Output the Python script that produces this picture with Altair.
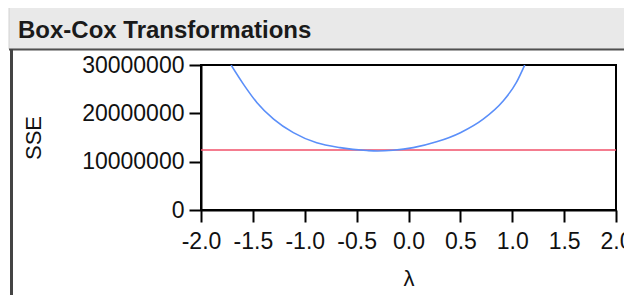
import altair as alt
import pandas as pd

# Box-Cox curve
lambdas = [-1.71, -1.59, -1.46, -1.30, -1.11, -0.885, -0.66, -0.40, -0.30, -0.15, 0.046, 0.27, 0.50, 0.72, 0.91, 1.04, 1.12]
sse_vals = [30.0e6, 26.0e6, 22.2e6, 18.8e6, 16.0e6, 13.9e6, 12.9e6, 12.3e6, 12.2e6, 12.35e6, 12.9e6, 14.1e6, 16.0e6, 18.8e6, 22.5e6, 26.4e6, 30.0e6]
ref_sse = [12.4e6]
x_ticks = [-2.0, -1.5, -1.0, -0.5, 0.0, 0.5, 1.0, 1.5, 2.0]
y_ticks = [0, 5e6, 10e6, 15e6, 20e6, 25e6, 30e6]
title_text = "Box-Cox Transformations"

curve_df = pd.DataFrame({"lam": lambdas, "sse": sse_vals})
ref_df = pd.DataFrame({"sse": ref_sse})
one = pd.DataFrame({"k": [0]})

FONT = "Liberation Sans"

xscale = alt.Scale(domain=[-2, 2], nice=False, zero=False)
yscale = alt.Scale(domain=[0, 30e6], nice=False)

xaxis = alt.Axis(values=x_ticks, format=".1f", title="λ", grid=False,
                 labelExpr="replace(datum.label, '\u2212', '-')")
yaxis = alt.Axis(values=y_ticks, format="d", title="SSE", grid=False,
                 labelExpr="datum.value % 10000000 === 0 ? datum.label : ''")

curve = alt.Chart(curve_df).mark_line(color="#5b8ff9", strokeWidth=1.6, clip=True,
                                      interpolate="monotone").encode(
    x=alt.X("lam:Q", scale=xscale, axis=xaxis),
    y=alt.Y("sse:Q", scale=yscale, axis=yaxis),
)

ref = alt.Chart(ref_df).mark_rule(color="#f0506a", strokeWidth=1.6).encode(
    y=alt.Y("sse:Q", scale=yscale)
)

# decorative report frame (title bar and outline)
bar = alt.Chart(one).mark_rect(fill="#e9e9e9", stroke="#d2d2d2", strokeWidth=1).encode(
    x=alt.value(-192), x2=alt.value(440), y=alt.value(-58), y2=alt.value(-16)
)
bar_line = alt.Chart(one).mark_rule(color="#505050", strokeWidth=2).encode(
    x=alt.value(-192), x2=alt.value(440), y=alt.value(-15.5)
)
left_line = alt.Chart(one).mark_rule(color="#444444", strokeWidth=3).encode(
    x=alt.value(-189.5), y=alt.value(-16), y2=alt.value(260)
)
title = alt.Chart(one).mark_text(text=title_text, font=FONT, fontSize=24, fontWeight="bold",
                                 align="left", baseline="alphabetic", color="#1a1a1a").encode(
    x=alt.value(-183), y=alt.value(-27.5)
)

chart = alt.layer(bar, bar_line, left_line, title, ref, curve).properties(
    width=415, height=145,
    autosize="none",
    padding={"left": 193, "top": 57, "right": 8, "bottom": 85},
).configure_view(stroke="black", strokeWidth=2).configure_axis(
    labelFont=FONT, titleFont=FONT, labelFontSize=23, titleFontSize=22,
    titleFontWeight="normal", labelColor="#111111", titleColor="#111111",
    domainColor="black", domainWidth=2, tickColor="black", tickWidth=2,
    tickSize=12, labelPadding=5,
).configure_axisX(titlePadding=15, labelPadding=8, labelFlush=False, labelOverlap=False
).configure_axisY(titlePadding=36, labelOverlap=False)

chart.save("out.html", embed_options={"renderer": "svg", "actions": False})
